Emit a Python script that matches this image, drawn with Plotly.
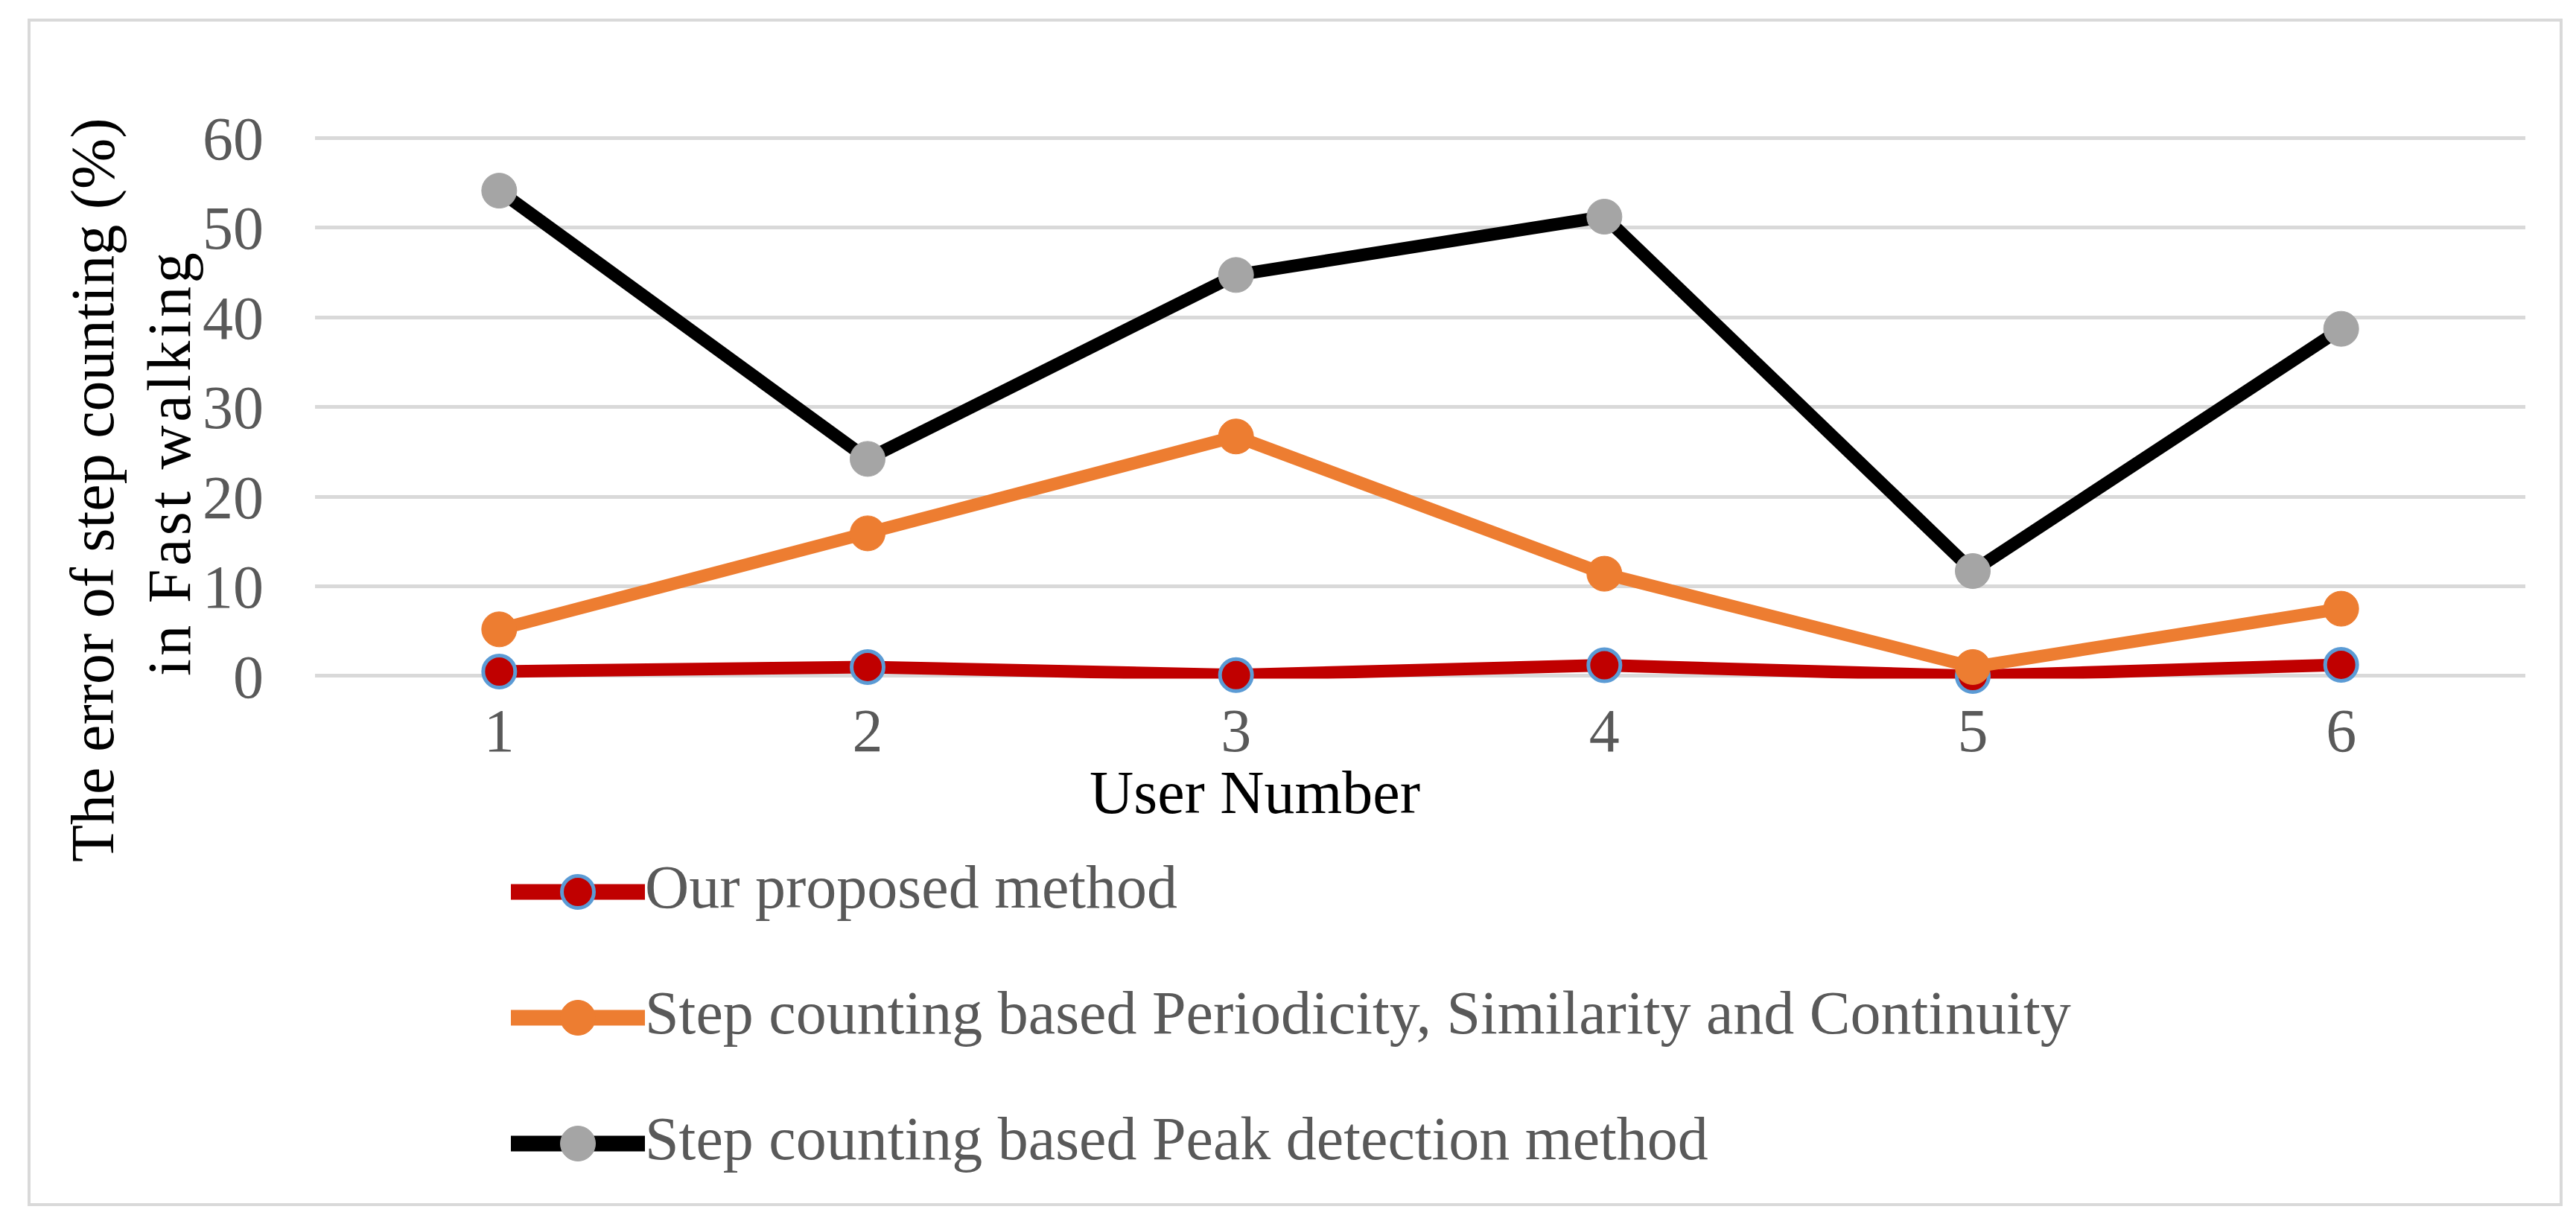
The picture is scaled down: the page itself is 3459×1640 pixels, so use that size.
import plotly.graph_objects as go

# ---------------- data ----------------
users = ["1", "2", "3", "4", "5", "6"]
proposed = [0.5, 1.0, 0.1, 1.2, 0.0, 1.25]
periodicity = [5.2, 15.9, 26.7, 11.4, 1.0, 7.5]
peak = [54.1, 24.2, 44.7, 51.2, 11.7, 38.7]
series_names = [
    "Our proposed method",
    "Step counting based Periodicity, Similarity and Continuity",
    "Step counting based Peak detection method",
]
y_tick_values = [0, 10, 20, 30, 40, 50, 60]
x_title = "User Number"
y_title_lines = ["The error of step counting (%)", "in Fast walking"]

# ---------------- styling ----------------
W, H = 3459, 1640
FONT = "Liberation Serif"
FS = 82
GRAY_TXT = "#595959"
GRID = "#D9D9D9"


def px(x):
    return x / W


def py(y):
    return 1 - y / H


styles = [
    dict(line="#C00000", fill="#C00000", edge="#5B9BD5", size=43, edge_w=5),
    dict(line="#ED7D31", fill="#ED7D31", edge="#ED7D31", size=47, edge_w=1),
    dict(line="#000000", fill="#A5A5A5", edge="#A5A5A5", size=47, edge_w=1),
]
values = [proposed, periodicity, peak]

fig = go.Figure()

for name, vals, st in zip(series_names, values, styles):
    fig.add_trace(go.Scatter(
        x=users, y=vals, name=name, mode="lines+markers",
        line=dict(color=st["line"], width=17),
        marker=dict(color=st["fill"], size=st["size"],
                    line=dict(color=st["edge"], width=st["edge_w"])),
        xaxis="x", yaxis="y", showlegend=False, cliponaxis=False,
    ))

# custom legend drawn in an auxiliary axis (rows = series names)
for name, st in zip(series_names, styles):
    fig.add_trace(go.Scatter(
        x=[0, 1], y=[name, name], mode="lines",
        line=dict(color=st["line"], width=21),
        xaxis="x2", yaxis="y2", showlegend=False, cliponaxis=False,
        hoverinfo="skip",
    ))
    fig.add_trace(go.Scatter(
        x=[0.5], y=[name], mode="markers",
        marker=dict(color=st["fill"], size=st["size"],
                    line=dict(color=st["edge"], width=st["edge_w"])),
        xaxis="x2", yaxis="y2", showlegend=False, cliponaxis=False,
        hoverinfo="skip",
    ))
    fig.add_trace(go.Scatter(
        x=[1], y=[name], mode="text", text=[name],
        textposition="middle right",
        textfont=dict(family=FONT, size=FS, color=GRAY_TXT),
        xaxis="x2", yaxis="y2", showlegend=False, cliponaxis=False,
        hoverinfo="skip",
    ))

annotations = [
    dict(text=x_title, xref="paper", yref="paper", x=px(1677), y=py(1056),
         xanchor="center", yanchor="middle", showarrow=False,
         font=dict(family=FONT, size=FS, color="#000000")),
    dict(text=y_title_lines[0], xref="paper", yref="paper", x=px(116), y=py(650),
         xanchor="center", yanchor="middle", showarrow=False, textangle=-90,
         font=dict(family=FONT, size=FS, color="#000000")),
    dict(text='<span style="letter-spacing:4.5px">' + y_title_lines[1] + "</span>",
         xref="paper", yref="paper", x=px(219), y=py(614),
         xanchor="center", yanchor="middle", showarrow=False, textangle=-90,
         font=dict(family=FONT, size=FS, color="#000000")),
]

fig.update_layout(
    width=W, height=H,
    margin=dict(l=0, r=0, t=0, b=0),
    paper_bgcolor="white", plot_bgcolor="white",
    font=dict(family=FONT, size=FS, color=GRAY_TXT),
    xaxis=dict(
        domain=[px(415), px(3383)], type="category", range=[-0.5, 5.5],
        showgrid=False, zeroline=False, showline=False, ticks="",
        tickfont=dict(family=FONT, size=FS, color=GRAY_TXT),
        ticklabelstandoff=14, automargin=False, anchor="y",
    ),
    yaxis=dict(
        domain=[py(903.6), py(173.4)], range=[-0.3, 60.3], tickvals=y_tick_values,
        showgrid=True, gridcolor=GRID, gridwidth=5, zeroline=False,
        showline=False, ticks="",
        tickfont=dict(family=FONT, size=FS, color=GRAY_TXT),
        ticklabelstandoff=68, automargin=False, anchor="x",
    ),
    xaxis2=dict(
        domain=[px(678), px(858)], range=[0, 1], visible=False,
        anchor="y2", fixedrange=True,
    ),
    yaxis2=dict(
        domain=[py(1612.5), py(1105.5)], type="category",
        categoryorder="array", categoryarray=series_names,
        range=[2.5, -0.5], visible=False, anchor="x2", fixedrange=True,
    ),
    shapes=[dict(type="rect", xref="paper", yref="paper",
                 x0=px(31), x1=px(3431), y0=py(1610), y1=py(19),
                 line=dict(color=GRID, width=4), layer="below")],
    annotations=annotations,
)

fig.write_html("out.html")
